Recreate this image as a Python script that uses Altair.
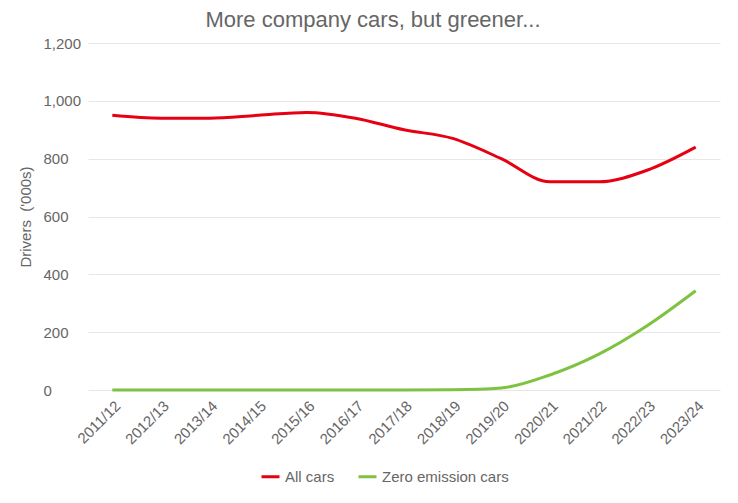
import altair as alt
import pandas as pd

years = ["2011/12", "2012/13", "2013/14", "2014/15", "2015/16", "2016/17", "2017/18",
         "2018/19", "2019/20", "2020/21", "2021/22", "2022/23", "2023/24"]
all_cars = [950, 940, 940, 950, 960, 940, 900, 870, 800, 720, 720, 760, 840]
zero_emission = [0, 0, 0, 0, 0, 0, 0, 1, 7, 52, 123, 222, 343]
series = ["All cars", "Zero emission cars"]
colors = ["#e60012", "#7ec242"]

rows = []
for y, a, z in zip(years, all_cars, zero_emission):
    rows.append({"year": y, "series": series[0], "value": a})
    rows.append({"year": y, "series": series[1], "value": z})
df = pd.DataFrame(rows)

grey = "#666666"

chart = alt.Chart(df).mark_line(strokeWidth=3, interpolate="monotone").encode(
    x=alt.X("year:N", sort=years, title=None,
            scale=alt.Scale(type="point", padding=0.5),
            axis=alt.Axis(labelAngle=-45, labelColor=grey, labelFontSize=15,
                          labelFont="Arial", domain=False, ticks=False, grid=False,
                          labelPadding=8, labelOverlap=False)),
    y=alt.Y("value:Q", title="Drivers\u00a0\u00a0('000s)",
            scale=alt.Scale(domain=[0, 1200]),
            axis=alt.Axis(values=[0, 200, 400, 600, 800, 1000, 1200], format=",.0f",
                          labelColor=grey, labelFontSize=15, labelFont="Arial",
                          labelAlign="left", labelPadding=45,
                          titleColor=grey, titleFontSize=15, titleFont="Arial",
                          titleFontWeight="normal", domain=False, ticks=False,
                          gridColor="#e6e6e6", gridWidth=1,
                          titlePadding=10)),
    color=alt.Color("series:N", sort=series,
                    scale=alt.Scale(domain=series, range=colors),
                    legend=alt.Legend(orient="none", legendX=172, legendY=423,
                                      title=None, symbolType="stroke",
                                      symbolStrokeWidth=3, symbolSize=324,
                                      labelColor=grey, labelFontSize=15,
                                      labelFont="Arial", direction="horizontal",
                                      labelOffset=4, columnPadding=17))
).properties(
    width=632, height=347,
    background="white",
    title=alt.TitleParams("More company cars, but greener...", fontSize=22,
                          font="Arial", fontWeight="normal", color=grey,
                          offset=4, dx=-31),
    padding={"left": 80, "top": 35, "right": 10, "bottom": 105},
    autosize=alt.AutoSizeParams(type="none"),
).configure_view(stroke="transparent", strokeWidth=0)

chart.save("out.html", embed_options={"renderer": "svg", "actions": False})
